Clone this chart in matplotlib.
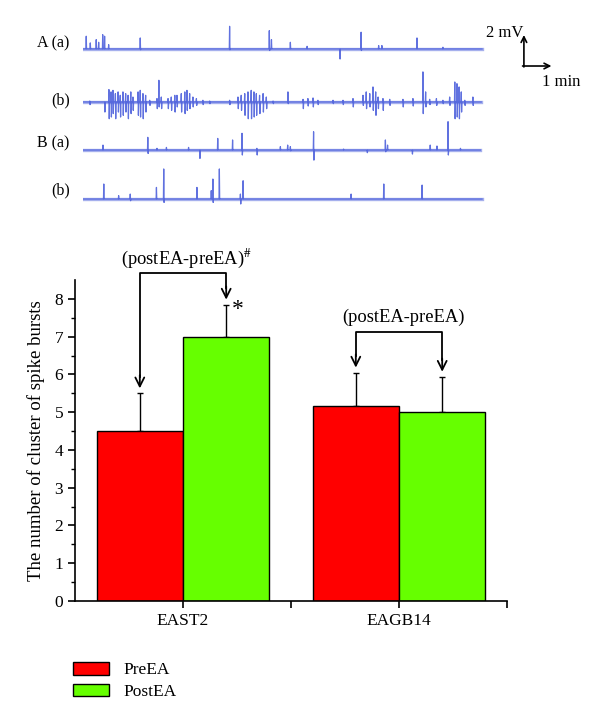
import numpy as np
import matplotlib
matplotlib.use('Agg')
import matplotlib.pyplot as plt
from matplotlib.patches import Patch

plt.rcParams['font.family'] = ['Liberation Serif', 'DejaVu Serif']
plt.rcParams['mathtext.fontset'] = 'stix'

# ___ bar data ___
groups = ['EAST2', 'EAGB14']
pre_mean = [4.5, 5.17]
pre_err = [1.0, 0.88]
post_mean = [7.0, 5.0]
post_err = [0.85, 0.94]

# ___ recordings: spike time (min), up (mV), down (mV) ___
trace_len = [14.78, 14.75, 14.72, 14.78]

aa_t = [0.12, 0.27, 0.49, 0.58, 0.73, 0.80, 0.95, 2.12, 5.43, 6.90, 6.98, 7.68, 8.30,
        9.51, 10.30, 10.95, 11.07, 12.37, 13.33]
aa_up = [0.82, 0.39, 0.60, 0.43, 0.92, 0.82, 0.28, 0.71, 1.46, 1.18, 0.60, 0.43, 0.17,
         0.0, 1.08, 0.22, 0.22, 0.71, 0.11]
aa_dn = [0.0, 0.0, 0.0, 0.0, 0.0, 0.0, 0.0, 0.05, 0.05, 0.1, 0.0, 0.0, 0.0,
         0.65, 0.1, 0.0, 0.0, 0.0, 0.0]

ab_t = [0.25, 0.80, 0.96, 1.04, 1.11, 1.20, 1.30, 1.38, 1.48, 1.58, 1.67, 1.77, 1.85,
        2.04, 2.12, 2.22, 2.32, 2.47, 2.74, 2.81, 2.90, 3.15, 3.27, 3.40, 3.48, 3.64,
        3.77, 3.85, 3.95, 4.07, 4.20, 4.44, 4.69, 5.43, 5.74, 5.86, 5.99, 6.11, 6.23,
        6.33, 6.42, 6.54, 6.67, 6.79, 7.04, 7.59, 8.15, 8.33, 8.52, 8.70, 9.26, 9.63,
        10.0, 10.37, 10.49, 10.62, 10.74, 10.84, 10.93, 11.11, 11.36, 11.85, 12.22,
        12.59, 12.69, 12.84, 13.09, 13.33, 13.58, 13.77, 13.85, 13.93, 14.01, 14.14, 14.44]
ab_up = [0.06, 0.0, 0.80, 0.65, 0.75, 0.54, 0.65, 0.43, 0.65, 0.54, 0.43, 0.65, 0.32,
         0.65, 0.75, 0.54, 0.43, 0.11, 0.22, 1.40, 0.32, 0.22, 0.32, 0.43, 0.43, 0.54,
         0.65, 0.75, 0.54, 0.32, 0.22, 0.11, 0.06, 0.11, 0.32, 0.43, 0.54, 0.65, 0.75,
         0.65, 0.54, 0.43, 0.54, 0.32, 0.06, 0.65, 0.17, 0.22, 0.26, 0.11, 0.11, 0.11,
         0.22, 0.43, 0.65, 0.54, 0.97, 0.65, 0.32, 0.22, 0.17, 0.17, 0.22,
         1.94, 0.65, 0.17, 0.22, 0.11, 0.32, 1.29, 1.18, 0.97, 0.65, 0.11, 0.32]
ab_dn = [0.17, 0.65, 1.08, 0.97, 0.75, 1.08, 0.65, 0.97, 0.86, 0.65, 1.08, 0.75, 0.54,
         0.86, 0.97, 1.08, 0.65, 0.22, 0.43, 0.32, 0.43, 0.43, 0.54, 0.65, 0.32, 0.65,
         0.75, 0.54, 0.43, 0.32, 0.22, 0.17, 0.11, 0.17, 0.43, 0.54, 0.86, 1.08, 1.08,
         0.97, 0.86, 0.75, 0.65, 0.43, 0.11, 0.11, 0.43, 0.26, 0.32, 0.17, 0.11, 0.17,
         0.32, 0.22, 0.43, 0.32, 0.54, 0.86, 0.43, 0.54, 0.22, 0.32, 0.26,
         0.75, 0.32, 0.17, 0.22, 0.11, 0.22, 1.08, 0.97, 1.08, 0.65, 0.22, 0.22]

ba_t = [0.74, 2.40, 2.74, 3.09, 3.91, 4.32, 4.99, 5.54, 5.89, 6.44, 7.31, 7.58, 7.68,
        8.54, 9.65, 10.52, 11.20, 11.28, 12.19, 12.86, 13.11, 13.52, 13.98]
ba_up = [0.32, 0.82, 0.11, 0.17, 0.17, 0.0, 0.75, 0.65, 1.08, 0.11, 0.22, 0.32, 0.22,
         1.18, 0.06, 0.0, 0.65, 0.32, 0.0, 0.32, 0.26, 1.83, 0.11]
ba_dn = [0.0, 0.22, 0.0, 0.0, 0.0, 0.54, 0.0, 0.0, 0.32, 0.32, 0.0, 0.0, 0.05,
         0.65, 0.0, 0.17, 0.11, 0.0, 0.26, 0.0, 0.0, 0.32, 0.0]

bb_t = [0.77, 1.32, 1.75, 2.72, 2.99, 4.22, 4.75, 4.81, 5.05, 5.83, 5.93, 9.93, 11.14, 12.56]
bb_up = [0.97, 0.22, 0.32, 0.75, 1.94, 0.75, 0.54, 1.29, 1.94, 0.32, 1.18, 0.32, 0.97, 0.90]
bb_dn = [0.0, 0.0, 0.11, 0.0, 0.22, 0.0, 0.0, 0.22, 0.0, 0.32, 0.0, 0.0, 0.0, 0.0]

trace_names = ['A (a)', '(b)', 'B (a)', '(b)']
traces = [(aa_t, aa_up, aa_dn), (ab_t, ab_up, ab_dn), (ba_t, ba_up, ba_dn), (bb_t, bb_up, bb_dn)]
offsets = [10.71, 7.29, 4.19, 1.03]

blue = '#4f62dc'

fig = plt.figure(figsize=[6, 7.2], dpi=100)

#__ traces __#
axt = fig.add_axes([83/600, 1-215/720, 513/600, 200/720])
axt.set_xlim(0, 19)
axt.set_ylim(0, 12.9)
axt.axis('off')

for k in range(4):
    t, up, dn = traces[k]
    xs = [0.0]
    ys = [0.0]
    for i in range(len(t)):
        xs += [t[i]-0.012, t[i], t[i]+0.012, t[i]+0.024]
        ys += [0.0, up[i], -dn[i], 0.0]
    xs.append(trace_len[k])
    ys.append(0.0)
    ys = np.array(ys) + offsets[k]
    axt.plot([0, trace_len[k]], [offsets[k], offsets[k]], color=blue, lw=2.4, alpha=0.5)
    axt.plot(xs, ys, color=blue, lw=0.9, alpha=0.9)

lab_y = [11.1, 7.42, 4.65, 1.61]
for k in range(4):
    axt.text(-0.5, lab_y[k], trace_names[k], ha='right', va='center', fontsize=11.5)

# scale bar
axt.annotate('', xy=(16.33, 11.61), xytext=(16.33, 9.55),
             arrowprops=dict(arrowstyle='->', lw=1.2, color='k', shrinkA=0, shrinkB=0))
axt.annotate('', xy=(17.35, 9.61), xytext=(16.28, 9.61),
             arrowprops=dict(arrowstyle='->', lw=1.2, color='k', shrinkA=0, shrinkB=0))
axt.text(16.3, 11.75, '2 mV', ha='right', va='center', fontsize=12)
axt.text(17.7, 8.6, '1 min', ha='center', va='center', fontsize=12)

#__ bar chart __#
ax = fig.add_axes([75/600, 1-601/720, 432/600, 321/720])
pos = np.array([1.0, 3.0])
ax.bar(pos-0.4, pre_mean, 0.8, color='#ff0000', edgecolor='k', lw=1.0, label='PreEA', zorder=2)
ax.bar(pos+0.4, post_mean, 0.8, color='#66ff00', edgecolor='k', lw=1.0, label='PostEA', zorder=2)
ax.errorbar(pos-0.4, pre_mean, yerr=[np.zeros(2), pre_err], fmt='none', ecolor='k',
            elinewidth=1.0, capsize=2.5, capthick=1.0, zorder=1)
ax.errorbar(pos+0.4, post_mean, yerr=[np.zeros(2), post_err], fmt='none', ecolor='k',
            elinewidth=1.0, capsize=2.5, capthick=1.0, zorder=1)

ax.set_xlim(0, 4)
ax.set_ylim(0, 8.5)
ax.spines['top'].set_visible(False)
ax.spines['right'].set_visible(False)
ax.spines['left'].set_linewidth(1.2)
ax.spines['bottom'].set_linewidth(1.2)
ax.set_yticks(range(0, 9))
ax.set_yticks(np.arange(0.5, 8.5, 1.0), minor=True)
ax.set_xticks([1, 2, 3, 4])
ax.set_xticklabels(['EAST2', '', 'EAGB14', ''])
ax.tick_params(direction='out', length=5, width=1.2, labelsize=12.5)
ax.tick_params(which='minor', direction='out', length=3, width=1.0)
ax.set_ylabel('The number of cluster of spike bursts', fontsize=13.5, labelpad=7)

# brackets
bracket_top = [8.69, 7.13]
for g in range(2):
    xl = pos[g]-0.4
    xr = pos[g]+0.4
    tip_l = pre_mean[g] + pre_err[g] + 0.13
    tip_r = post_mean[g] + post_err[g] + 0.13
    ax.plot([xl, xl, xr, xr], [tip_l+0.3, bracket_top[g], bracket_top[g], tip_r+0.3],
            color='k', lw=1.3, clip_on=False)
    ax.annotate('', xy=(xl, tip_l), xytext=(xl, tip_l+0.35), annotation_clip=False,
                arrowprops=dict(arrowstyle='->', lw=1.3, color='k', shrinkA=0, shrinkB=0, mutation_scale=16))
    ax.annotate('', xy=(xr, tip_r), xytext=(xr, tip_r+0.35), annotation_clip=False,
                arrowprops=dict(arrowstyle='->', lw=1.3, color='k', shrinkA=0, shrinkB=0, mutation_scale=16))

ax.text(1.03, 9.05, '(postEA-preEA)$^{\\#}$', ha='center', va='center', fontsize=13.3, clip_on=False)
ax.text(3.04, 7.5, '(postEA-preEA)', ha='center', va='center', fontsize=13.3)
ax.text(1.51, 7.72, '*', ha='center', va='center', fontsize=17)

handles = [Patch(facecolor='#ff0000', edgecolor='k', lw=1.0), Patch(facecolor='#66ff00', edgecolor='k', lw=1.0)]
fig.legend(handles, ['PreEA', 'PostEA'], loc='upper left', bbox_to_anchor=(73/600, 1-662/720),
           frameon=False, fontsize=12.5, handlelength=2.1, handleheight=0.75, labelspacing=0.3,
           handletextpad=0.8, borderpad=0, borderaxespad=0)

plt.savefig('out.png', dpi=100)
